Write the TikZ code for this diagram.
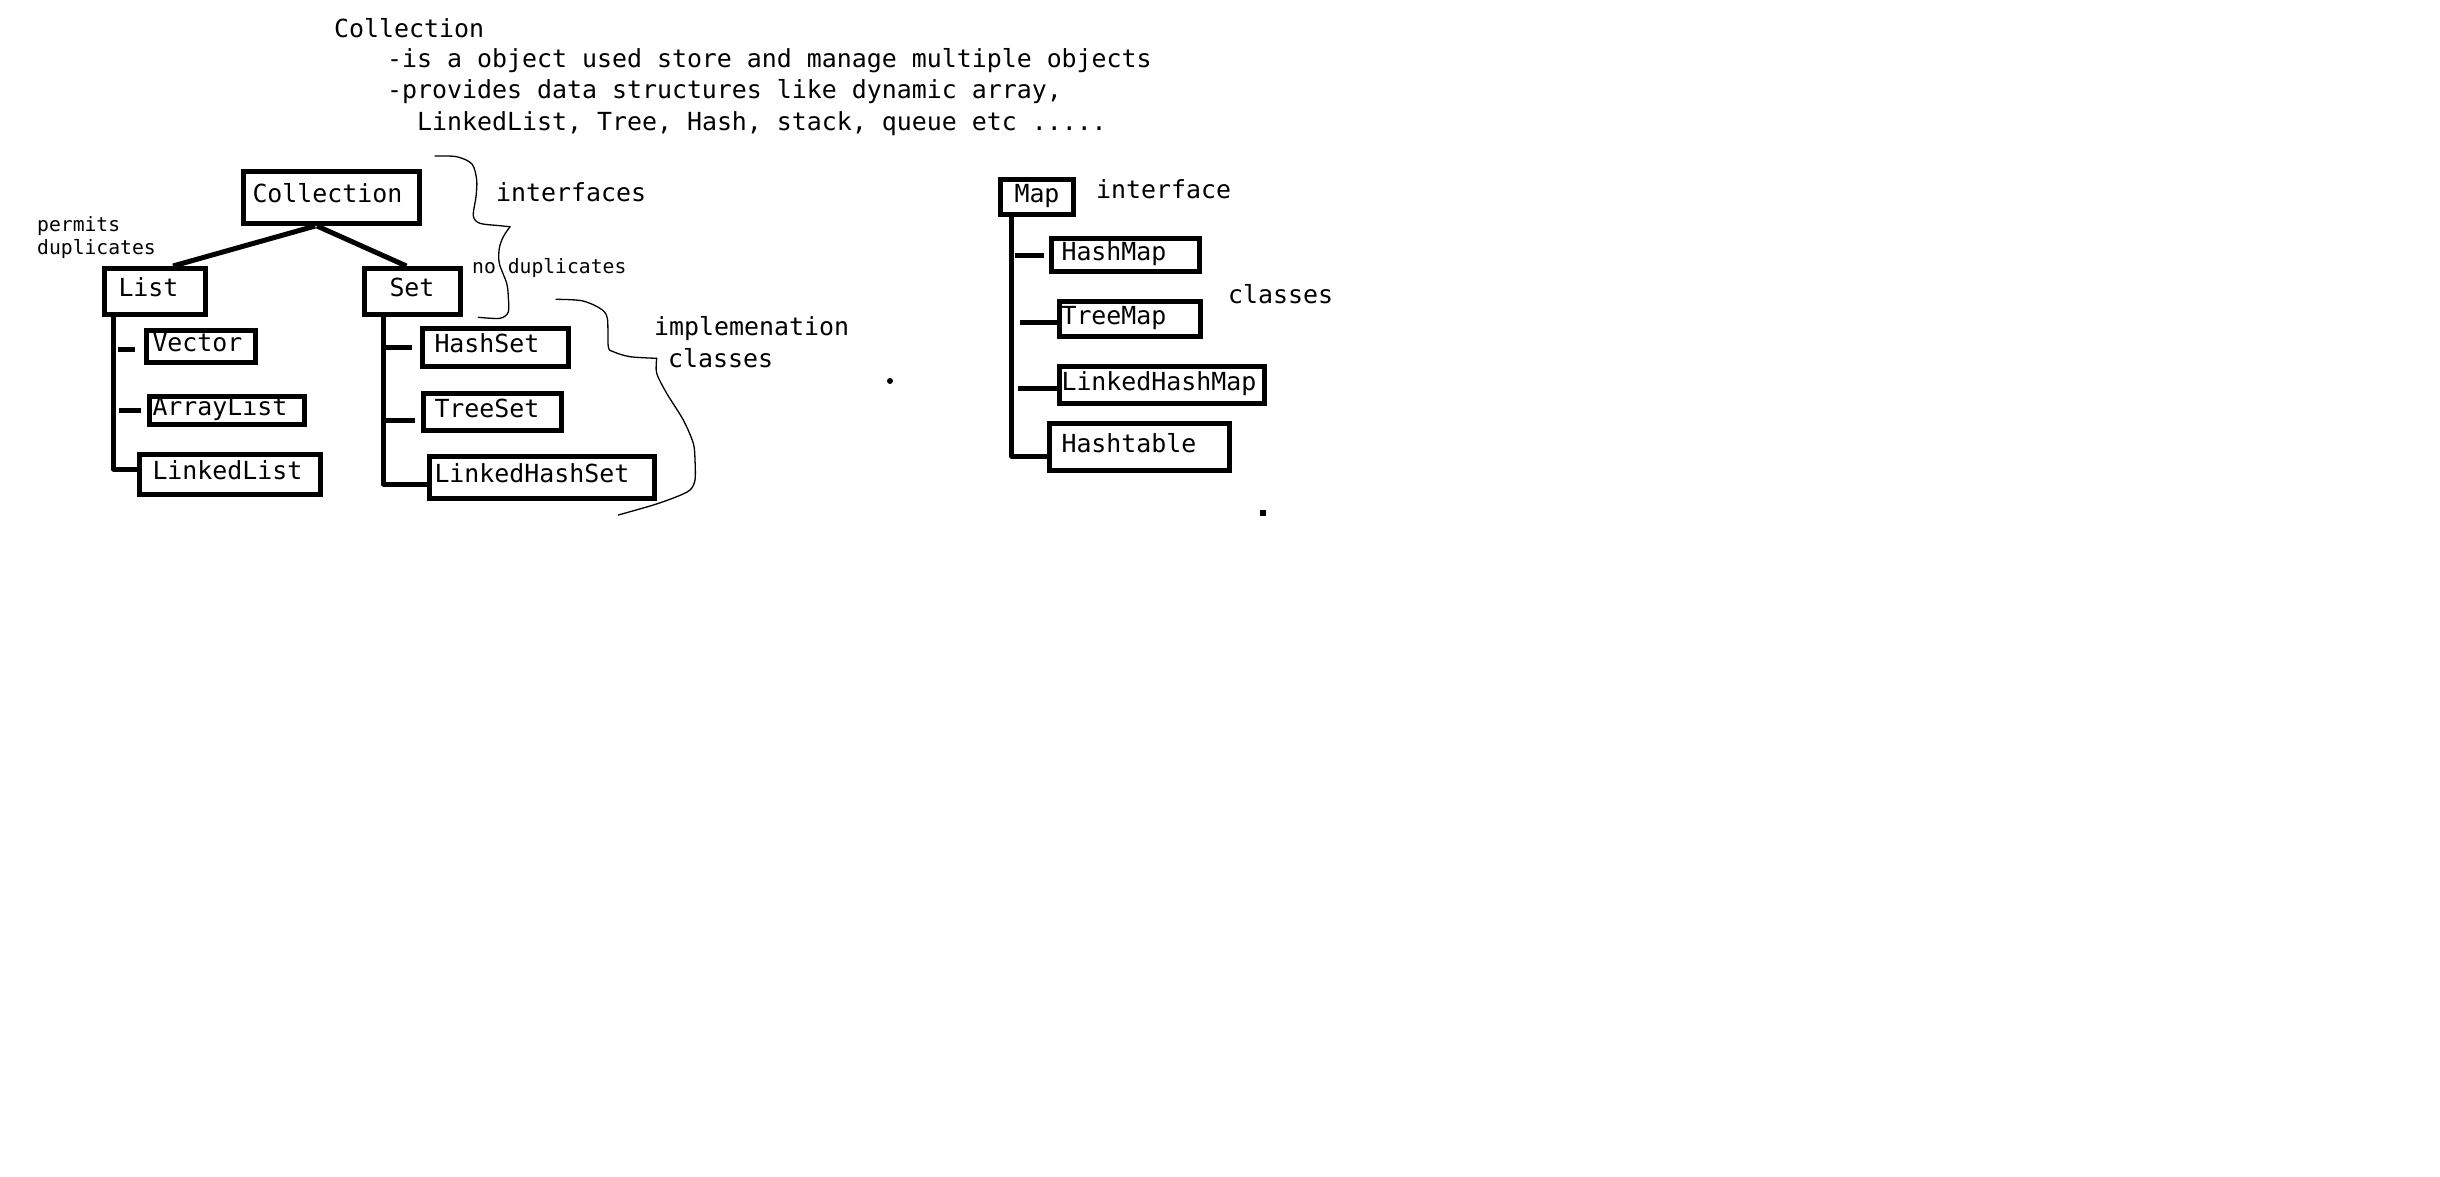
\documentclass[tikz,border=0pt]{standalone}
\usepackage{fontspec}
\usetikzlibrary{calc}
\newfontfamily\monofam{DejaVu Sans Mono}
\newcommand\txtbig{\monofam\fontsize{24.9}{31}\selectfont}
\newcommand\txtsmall{\monofam\fontsize{19.7}{23}\selectfont}
\begin{document}
\begin{tikzpicture}[x=1pt,y=-1pt,
  bx/.style n args={3}{draw, line width=5pt, inner ysep=0pt, inner xsep=#1,
     text width=#2, minimum height=#3, text height=18pt, text depth=8pt,
     align=left, font=\txtbig},
  conn/.style={line width=5pt, line join=round},
  brace/.style={line width=1.3pt, line cap=round, line join=round},
  txt/.style={anchor=base west, inner sep=0pt, font=\txtbig},
  stxt/.style={anchor=base west, inner sep=0pt, font=\txtsmall}]
\fill[white] (0,0) rectangle (2440,1176);
\useasboundingbox (0,0) rectangle (2440,1176);

% heading text
\node[txt] (title) at (334,37) {Collection};
\node[txt] (line1) at (387,67) {-is a object used store and manage multiple objects};
\node[txt] (line2) at (387,98) {-provides data structures like dynamic array,};
\node[txt] (line3) at (417,130) {LinkedList, Tree, Hash, stack, queue etc .....};

% Collection hierarchy
\node[bx={9pt}{158pt}{52pt}] (coll) at (331.5,197.5) {Collection};
\node[bx={14pt}{73pt}{46pt}] (list) at (155,291.5) {List};
\node[bx={25pt}{46pt}{46pt}] (set) at (412.5,291.5) {Set};
\node[bx={6pt}{97pt}{32pt}] (vector) at (201,346.5) {Vector};
\node[bx={3pt}{149pt}{28pt}] (arraylist) at (227,410.5) {ArrayList};
\node[bx={13pt}{155pt}{40pt}] (linkedlist) at (230,474.5) {LinkedList};
\node[bx={12pt}{122pt}{38pt}] (hashset) at (495.5,347.5) {HashSet};
\node[bx={11pt}{116pt}{37pt}] (treeset) at (492.5,412) {TreeSet};
\node[bx={5pt}{215pt}{42pt}] (linkedhashset) at (542,477.5) {LinkedHashSet};

\draw[conn] ($(coll.south west)!0.41!(coll.south east)$) -- ($(list.north west)!0.67!(list.north east)$);
\draw[conn] ($(coll.south west)!0.42!(coll.south east)$) -- ($(set.north west)!0.44!(set.north east)$);

\draw[conn] ([xshift=11.5pt]list.south west) |- ([yshift=5.5pt]linkedlist.west);
\draw[conn] ([xshift=-9.5pt,yshift=-2.5pt]vector.west) -- ++(-17,0);
\draw[conn] ([xshift=-6.5pt,yshift=0.5pt]arraylist.west) -- ++(-22,0);

\draw[conn] ([xshift=21.5pt]set.south west) |- ([yshift=-6.5pt]linkedhashset.west);
\draw[conn] ([xshift=-8.5pt]hashset.west) -- ++(-28,0);
\draw[conn] ([xshift=-6.5pt,yshift=-8pt]treeset.west) -- ++(-30,0);

% side notes
\node[stxt] (permits) at (37,231) {permits};
\node[stxt] (dups) at (37,254) {duplicates};
\node[txt] (interfaces) at (496,201) {interfaces};
\node[stxt] (nodup) at (472,273) {no duplicates};
\node[txt] (impl) at (654,335) {implemenation};
\node[txt] (classesA) at (668,367) {classes};

% braces
\draw[brace] plot[smooth, tension=0.5] coordinates {(435,156) (456.7,156.7) (472,164) (476.7,180) (476,196.7) (473.3,216) (480,223.3) (500,225.7) (510,226.7)};
\draw[brace] plot[smooth, tension=0.5] coordinates {(510,226.7) (503.3,236.7) (499.3,248.3) (499.3,263.3) (506.7,283.3) (508.3,296.7) (508.3,312) (500,318.3) (478.3,317.3)};
\draw[brace] plot[smooth, tension=0.5] coordinates {(556,299.3) (581.7,300.7) (600,308.3) (607.3,318) (608.3,346.7) (613.3,351.7) (630,356.7) (656.7,358.3)};
\draw[brace] plot[smooth, tension=0.5] coordinates {(656.7,358.3) (656.7,373.3) (666.7,393.3) (683.3,420) (693.3,443.3) (695,460) (695,480) (690,490) (676.7,496.7) (653.3,505) (618.3,515)};

% Map hierarchy
\node[bx={14pt}{45pt}{35pt}] (map) at (1037,197) {Map};
\node[bx={10pt}{128pt}{33pt}] (hashmap) at (1125.5,255) {HashMap};
\node[bx={2pt}{137pt}{35pt}] (treemap) at (1130,319) {TreeMap};
\node[bx={2pt}{201pt}{37pt}] (linkedhashmap) at (1162,385) {LinkedHashMap};
\node[bx={12pt}{156pt}{47pt}] (hashtable) at (1139.5,447) {Hashtable};

\draw[conn] ([xshift=13.5pt]map.south west) |- ([yshift=-9pt]hashtable.west);
\draw[conn] ([xshift=-5.5pt]hashmap.west) -- ++(-29,0);
\draw[conn] ([yshift=-3pt]treemap.west) -- ++(-37,0);
\draw[conn] ([yshift=-3pt]linkedhashmap.west) -- ++(-39.5,0);

\node[txt] (iface) at (1096,198) {interface};
\node[txt] (classesB) at (1228,303) {classes};

% stray marks
\fill (890,381) circle (3);
\fill (1260,510) rectangle (1266,516);
\end{tikzpicture}
\end{document}
